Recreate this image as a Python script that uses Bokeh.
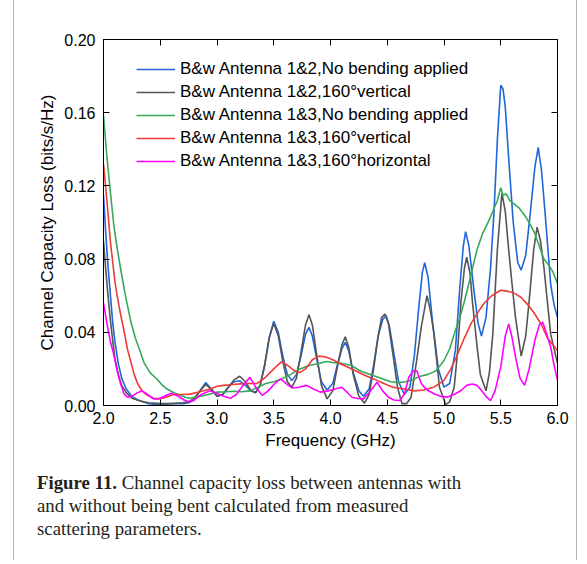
from bokeh.plotting import figure
from bokeh.models import (LinearAxis, FixedTicker, NumeralTickFormatter, Range1d,
                          CustomJSTickFormatter, Div)
from bokeh.layouts import row, column
from bokeh.embed import file_html
from bokeh.resources import INLINE

# ---------------- data ----------------
x_blue = [2.0, 2.02, 2.04, 2.06, 2.08, 2.10, 2.13, 2.16, 2.20, 2.25, 2.30, 2.35, 2.40, 2.45,
          2.50, 2.60, 2.70, 2.75, 2.80, 2.85, 2.90, 2.95, 3.00, 3.05, 3.10, 3.15, 3.20, 3.25,
          3.30, 3.34, 3.38, 3.42, 3.46, 3.50, 3.54, 3.58, 3.62, 3.66, 3.70, 3.74, 3.78, 3.81,
          3.84, 3.88, 3.92, 3.97, 4.02, 4.06, 4.10, 4.13, 4.16, 4.20, 4.25, 4.29, 4.34, 4.38,
          4.42, 4.46, 4.49, 4.52, 4.56, 4.60, 4.65, 4.70, 4.74, 4.78, 4.81, 4.83, 4.86, 4.90,
          4.95, 5.00, 5.05, 5.10, 5.14, 5.17, 5.19, 5.22, 5.26, 5.30, 5.33, 5.37, 5.41, 5.44,
          5.47, 5.50, 5.52, 5.54, 5.57, 5.61, 5.65, 5.68, 5.72, 5.76, 5.80, 5.83, 5.86, 5.90,
          5.94, 5.97, 6.0]
y_blue = [0.115, 0.094, 0.076, 0.061, 0.046, 0.035, 0.023, 0.015, 0.009, 0.005, 0.003, 0.002,
          0.001, 0.0005, 0.0005, 0.001, 0.001, 0.0015, 0.003, 0.008, 0.0125, 0.009, 0.005,
          0.006, 0.010, 0.013, 0.0135, 0.011, 0.008, 0.007, 0.011, 0.022, 0.037, 0.046, 0.040,
          0.027, 0.017, 0.0136, 0.017, 0.027, 0.039, 0.0427, 0.038, 0.025, 0.013, 0.0085, 0.012,
          0.022, 0.031, 0.0345, 0.030, 0.018, 0.008, 0.005, 0.009, 0.022, 0.038, 0.047, 0.049,
          0.043, 0.028, 0.013, 0.006, 0.010, 0.028, 0.055, 0.073, 0.078, 0.070, 0.045, 0.020,
          0.010, 0.012, 0.030, 0.065, 0.087, 0.095, 0.087, 0.065, 0.045, 0.038, 0.048, 0.075,
          0.105, 0.145, 0.175, 0.173, 0.163, 0.135, 0.100, 0.078, 0.074, 0.082, 0.105, 0.130,
          0.141, 0.128, 0.098, 0.066, 0.055, 0.048]

x_black = [2.0, 2.02, 2.04, 2.06, 2.08, 2.10, 2.13, 2.16, 2.20, 2.25, 2.30, 2.35, 2.40, 2.50,
           2.60, 2.70, 2.75, 2.80, 2.85, 2.90, 2.95, 3.00, 3.05, 3.10, 3.15, 3.20, 3.25, 3.30,
           3.34, 3.38, 3.42, 3.46, 3.50, 3.54, 3.58, 3.62, 3.66, 3.70, 3.74, 3.78, 3.81, 3.84,
           3.88, 3.92, 3.97, 4.02, 4.06, 4.10, 4.13, 4.16, 4.20, 4.25, 4.30, 4.34, 4.38, 4.42,
           4.45, 4.48, 4.51, 4.55, 4.59, 4.63, 4.67, 4.71, 4.76, 4.80, 4.85, 4.88, 4.91, 4.96,
           5.015, 5.05, 5.09, 5.12, 5.15, 5.18, 5.20, 5.23, 5.25, 5.29, 5.32, 5.37, 5.40, 5.43,
           5.47, 5.51, 5.54, 5.57, 5.60, 5.63, 5.68, 5.72, 5.75, 5.79, 5.82, 5.85, 5.88, 5.94,
           6.0]
y_black = [0.090, 0.074, 0.060, 0.047, 0.036, 0.026, 0.017, 0.011, 0.007, 0.004, 0.003, 0.002,
           0.0015, 0.001, 0.001, 0.0015, 0.002, 0.004, 0.008, 0.0115, 0.009, 0.005, 0.006, 0.010,
           0.014, 0.016, 0.013, 0.008, 0.007, 0.011, 0.022, 0.037, 0.045, 0.038, 0.024, 0.013,
           0.010, 0.015, 0.029, 0.044, 0.0496, 0.044, 0.027, 0.011, 0.0036, 0.008, 0.021, 0.033,
           0.0376, 0.032, 0.017, 0.005, 0.0013, 0.006, 0.020, 0.038, 0.048, 0.050, 0.045, 0.028,
           0.010, 0.001, 0.001, 0.0045, 0.025, 0.043, 0.060, 0.052, 0.040, 0.010, 0.0005, 0.002,
           0.010, 0.030, 0.057, 0.075, 0.081, 0.072, 0.057, 0.033, 0.017, 0.008, 0.018, 0.039,
           0.085, 0.116, 0.106, 0.085, 0.066, 0.048, 0.027, 0.038, 0.057, 0.085, 0.0975, 0.090,
           0.0756, 0.039, 0.023]

x_green = [2.0, 2.03, 2.06, 2.09, 2.12, 2.15, 2.19, 2.24, 2.28, 2.32, 2.36, 2.41, 2.47, 2.52,
           2.56, 2.62, 2.68, 2.72, 2.76, 2.80, 2.85, 2.92, 3.00, 3.08, 3.15, 3.22, 3.29, 3.36,
           3.43, 3.50, 3.57, 3.65, 3.73, 3.82, 3.90, 3.96, 4.02, 4.10, 4.18, 4.26, 4.35, 4.44,
           4.53, 4.60, 4.66, 4.72, 4.79, 4.86, 4.93, 5.00, 5.05, 5.09, 5.14, 5.18, 5.24, 5.29,
           5.34, 5.38, 5.43, 5.47, 5.50, 5.52, 5.55, 5.58, 5.62, 5.66, 5.71, 5.76, 5.80, 5.84,
           5.88, 5.92, 5.96, 6.0]
y_green = [0.1585, 0.136, 0.117, 0.099, 0.086, 0.075, 0.061, 0.046, 0.037, 0.030, 0.023, 0.018,
           0.0145, 0.011, 0.009, 0.007, 0.0055, 0.0045, 0.004, 0.0045, 0.005, 0.006, 0.0073,
           0.0075, 0.0078, 0.0075, 0.008, 0.010, 0.012, 0.013, 0.0145, 0.017, 0.020, 0.022,
           0.023, 0.024, 0.0235, 0.023, 0.022, 0.019, 0.017, 0.015, 0.013, 0.0125, 0.013, 0.014,
           0.016, 0.017, 0.019, 0.0246, 0.031, 0.039, 0.048, 0.057, 0.072, 0.085, 0.094, 0.099,
           0.106, 0.112, 0.119, 0.115, 0.1155, 0.112, 0.110, 0.108, 0.104, 0.099, 0.094, 0.087,
           0.080, 0.077, 0.073, 0.0665]

x_red = [2.0, 2.03, 2.06, 2.10, 2.12, 2.15, 2.18, 2.21, 2.24, 2.27, 2.30, 2.34, 2.38, 2.44,
         2.49, 2.55, 2.62, 2.70, 2.76, 2.85, 2.94, 3.00, 3.06, 3.14, 3.21, 3.28, 3.35, 3.42,
         3.50, 3.57, 3.62, 3.68, 3.73, 3.78, 3.84, 3.90, 3.96, 4.02, 4.08, 4.15, 4.22, 4.32,
         4.40, 4.47, 4.55, 4.65, 4.74, 4.82, 4.91, 4.96, 5.00, 5.06, 5.12, 5.18, 5.24, 5.30,
         5.35, 5.42, 5.50, 5.55, 5.59, 5.63, 5.68, 5.74, 5.80, 5.86, 5.91, 5.96, 6.0]
y_red = [0.132, 0.112, 0.090, 0.068, 0.060, 0.050, 0.041, 0.031, 0.024, 0.017, 0.012, 0.008,
         0.0058, 0.004, 0.0035, 0.0045, 0.006, 0.006, 0.0062, 0.0075, 0.009, 0.0105, 0.011,
         0.0115, 0.0118, 0.012, 0.012, 0.015, 0.020, 0.024, 0.022, 0.019, 0.018, 0.020, 0.025,
         0.027, 0.0265, 0.025, 0.023, 0.021, 0.019, 0.016, 0.014, 0.012, 0.010, 0.009, 0.008,
         0.0085, 0.010, 0.012, 0.0137, 0.020, 0.028, 0.037, 0.045, 0.051, 0.0556, 0.060, 0.063,
         0.0625, 0.062, 0.061, 0.059, 0.055, 0.050, 0.044, 0.037, 0.033, 0.030]

x_mag = [2.0, 2.03, 2.06, 2.09, 2.12, 2.15, 2.18, 2.21, 2.25, 2.30, 2.34, 2.39, 2.44, 2.50,
         2.55, 2.60, 2.66, 2.71, 2.75, 2.80, 2.86, 2.94, 3.00, 3.06, 3.12, 3.17, 3.23, 3.29,
         3.34, 3.40, 3.45, 3.51, 3.56, 3.61, 3.66, 3.72, 3.79, 3.85, 3.91, 3.98, 4.04, 4.10,
         4.15, 4.19, 4.24, 4.29, 4.34, 4.41, 4.46, 4.51, 4.56, 4.61, 4.65, 4.69, 4.73, 4.76,
         4.80, 4.84, 4.91, 4.97, 5.03, 5.09, 5.15, 5.20, 5.25, 5.29, 5.32, 5.37, 5.41, 5.45,
         5.50, 5.54, 5.57, 5.60, 5.63, 5.67, 5.71, 5.75, 5.80, 5.84, 5.87, 5.90, 5.94, 5.97,
         6.0]
y_mag = [0.056, 0.045, 0.035, 0.028, 0.019, 0.012, 0.0065, 0.0045, 0.005, 0.007, 0.008, 0.006,
         0.0036, 0.004, 0.0055, 0.0067, 0.005, 0.003, 0.002, 0.003, 0.006, 0.008, 0.0065,
         0.005, 0.004, 0.006, 0.011, 0.0155, 0.010, 0.0055, 0.008, 0.012, 0.0145, 0.012,
         0.0096, 0.010, 0.011, 0.009, 0.0073, 0.008, 0.009, 0.010, 0.007, 0.0045, 0.0038,
         0.0036, 0.007, 0.0127, 0.008, 0.0045, 0.003, 0.0027, 0.006, 0.0155, 0.019, 0.019,
         0.012, 0.009, 0.0064, 0.005, 0.0046, 0.006, 0.0082, 0.011, 0.0118, 0.011, 0.009,
         0.005, 0.0027, 0.008, 0.021, 0.038, 0.0446, 0.037, 0.0264, 0.015, 0.011, 0.020,
         0.0355, 0.044, 0.0455, 0.040, 0.032, 0.022, 0.0137]

series_labels = ["B&w Antenna 1&2,No bending applied",
                 "B&w Antenna 1&2,160\u00b0vertical",
                 "B&w Antenna 1&3,No bending applied",
                 "B&w Antenna 1&3,160\u00b0vertical",
                 "B&w Antenna 1&3,160\u00b0horizontal"]
x_ticks = [2.0, 2.5, 3.0, 3.5, 4.0, 4.5, 5.0, 5.5, 6.0]
y_ticks = [0.00, 0.04, 0.08, 0.12, 0.16, 0.20]

caption_bold = "Figure 11."
caption_lines = ["Channel capacity loss between antennas with",
                 "and without being bent calculated from measured",
                 "scattering parameters."]

# ---------------- figure ----------------
LEFT0 = 14          # page x where the figure starts (after the page rule)
W, H = 562, 469
p = figure(width=W, height=H, output_backend="svg", toolbar_location=None,
           x_range=Range1d(2.0, 6.0), y_range=Range1d(0.0, 0.20),
           min_border_left=103 - LEFT0, min_border_right=LEFT0 + W - 557,
           min_border_top=39, min_border_bottom=H - 405,
           background_fill_color="white", border_fill_color="white",
           outline_line_color="black")
p.grid.visible = False

FONT = "Liberation Sans"

p.add_layout(LinearAxis(), "above")
p.add_layout(LinearAxis(), "right")

def style_axis(ax, ticks, labels):
    ax.ticker = FixedTicker(ticks=ticks)
    ax.major_tick_in = 6
    ax.major_tick_out = 0
    ax.minor_tick_in = 0
    ax.minor_tick_out = 0
    ax.axis_line_color = "black"
    ax.major_tick_line_color = "black"
    ax.major_label_text_font = FONT
    ax.major_label_text_font_size = "16px"
    ax.major_label_text_color = "black"
    ax.axis_label_text_font = FONT
    ax.axis_label_text_font_size = "17px"
    ax.axis_label_text_font_style = "normal"
    ax.axis_label_text_color = "black"
    if not labels:
        ax.formatter = CustomJSTickFormatter(code="return ''")
        ax.major_label_standoff = 0
        ax.axis_label_standoff = 0

style_axis(p.below[0], x_ticks, True)
style_axis(p.above[0], x_ticks, False)
style_axis(p.left[0], y_ticks, True)
style_axis(p.right[0], y_ticks, False)
p.below[0].formatter = NumeralTickFormatter(format="0.0")
p.left[0].formatter = NumeralTickFormatter(format="0.00")

p.below[0].axis_label = "Frequency (GHz)"
p.below[0].major_label_standoff = 6
p.below[0].axis_label_standoff = 4
p.left[0].axis_label = "Channel Capacity Loss (bits/s/Hz)"
p.left[0].major_label_standoff = 8
p.left[0].axis_label_standoff = 4

colors = ["#1f66d9", "#555555", "#38a85a", "#ef3b36", "#ff00ff"]
xs = [x_blue, x_black, x_green, x_red, x_mag]
ys = [y_blue, y_black, y_green, y_red, y_mag]
for xx, yy, c, lab in zip(xs, ys, colors, series_labels):
    p.line(xx, yy, line_color=c, line_width=1.6, legend_label=lab)

lg = p.legend[0]
lg.location = (33, 234)
lg.padding = 0
lg.margin = 0
lg.spacing = 3
lg.glyph_width = 39
lg.glyph_height = 20
lg.label_height = 20
lg.label_standoff = 5
lg.label_text_font = FONT
lg.label_text_font_size = "17px"
lg.label_text_color = "black"
lg.border_line_color = None
lg.background_fill_alpha = 0

# ---------------- caption and page rules ----------------
cap_html = (
    "<div style=\"font-family:'Liberation Serif';font-size:18.8px;line-height:23px;"
    "color:#231f20;padding-left:%dpx;padding-top:2px;white-space:nowrap;margin:0;\">"
    "<b>%s</b> %s<br>%s<br>%s</div>"
    % (37 - LEFT0, caption_bold, caption_lines[0], caption_lines[1], caption_lines[2])
)
caption = Div(text=cap_html, width=W, height=90, margin=0)

rule_left = Div(text="<div style='margin-left:13px;width:1px;height:560px;"
                     "background:#b4b4b4;'></div>", width=LEFT0, height=560, margin=0)
rule_right = Div(text="<div style='width:1px;height:560px;background:#b4b4b4;'></div>",
                 width=2, height=560, margin=0)

layout = row(rule_left, column(p, caption, spacing=0), rule_right, spacing=0)

open("out.html", "w").write(file_html(layout, INLINE))
